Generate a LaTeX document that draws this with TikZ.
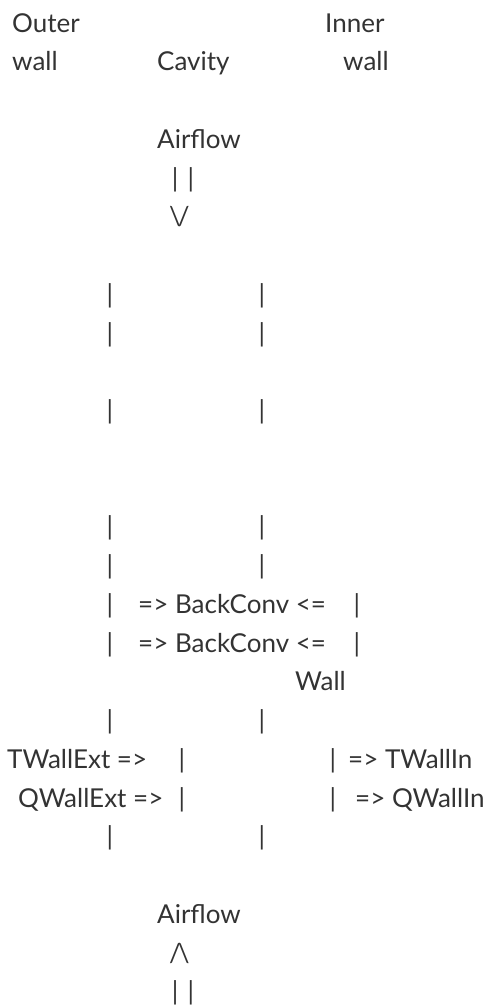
\documentclass[tikz,border=0pt]{standalone}
\usepackage{fontspec}
\newfontfamily\osans{Lato}
\begin{document}
\begin{tikzpicture}[x=1pt,y=-1pt,
  txt/.style={anchor=base west, inner sep=0pt, font={\osans\fontsize{26}{32}\selectfont}, text=black!80},
  barmark/.style={anchor=base, inner sep=0pt, font={\osans\fontsize{26}{32}\selectfont}, text=black!80}]
\useasboundingbox (0,0) rectangle (487,1005);
\def\by#1{32+38.75*#1}
% headings
\node[txt] (outer) at (12,{\by{0}}) {Outer};
\node[txt] (inner) at (325,{\by{0}}) {Inner};
\node[txt] (wallL) at (12,{\by{1}}) {wall};
\node[txt] (cavity) at (157,{\by{1}}) {Cavity};
\node[txt] (wallR) at (343,{\by{1}}) {wall};
% top airflow
\node[txt] (airT) at (157,{\by{3}}) {Airflow};
\node[barmark] (pipeT) at (183,{\by{4}}) {|\kern9pt|};
\node[txt] (downT) at (169,{\by{5}}) {\textbackslash\kern-3pt/};
% wall bars
\foreach \k/\n in {7/a,8/b,10/c,13/d,14/e,18/f,21/g}{
  \node[barmark] (l\n) at (110,{\by{\k}}) {|};
  \node[barmark] (r\n) at (262,{\by{\k}}) {|};
}
% back convection
\node[barmark] (lbc1) at (110,{\by{15}}) {|};
\node[txt] (bc1) at (138,{\by{15}}) {=> BackConv <=};
\node[barmark] (rbc1) at (357,{\by{15}}) {|};
\node[barmark] (lbc2) at (110,{\by{16}}) {|};
\node[txt] (bc2) at (138,{\by{16}}) {=> BackConv <=};
\node[barmark] (rbc2) at (357,{\by{16}}) {|};
\node[txt] (wallw) at (295,{\by{17}}) {Wall};
% wall temperatures and heat flows
\node[txt] (twe) at (7,{\by{19}}) {TWallExt =>};
\node[barmark] (ltw) at (182,{\by{19}}) {|};
\node[barmark] (rtw) at (333,{\by{19}}) {|};
\node[txt] (twi) at (348,{\by{19}}) {=> TWallIn};
\node[txt] (qwe) at (18,{\by{20}}) {QWallExt =>};
\node[barmark] (lqw) at (182,{\by{20}}) {|};
\node[barmark] (rqw) at (333,{\by{20}}) {|};
\node[txt] (qwi) at (355,{\by{20}}) {=> QWallIn};
% bottom airflow
\node[txt] (airB) at (157,{\by{23}}) {Airflow};
\node[txt] (upB) at (169,{\by{24}}) {/\kern-3pt\textbackslash};
\node[barmark] (pipeB) at (183,{\by{25}}) {|\kern9pt|};
\end{tikzpicture}
\end{document}
